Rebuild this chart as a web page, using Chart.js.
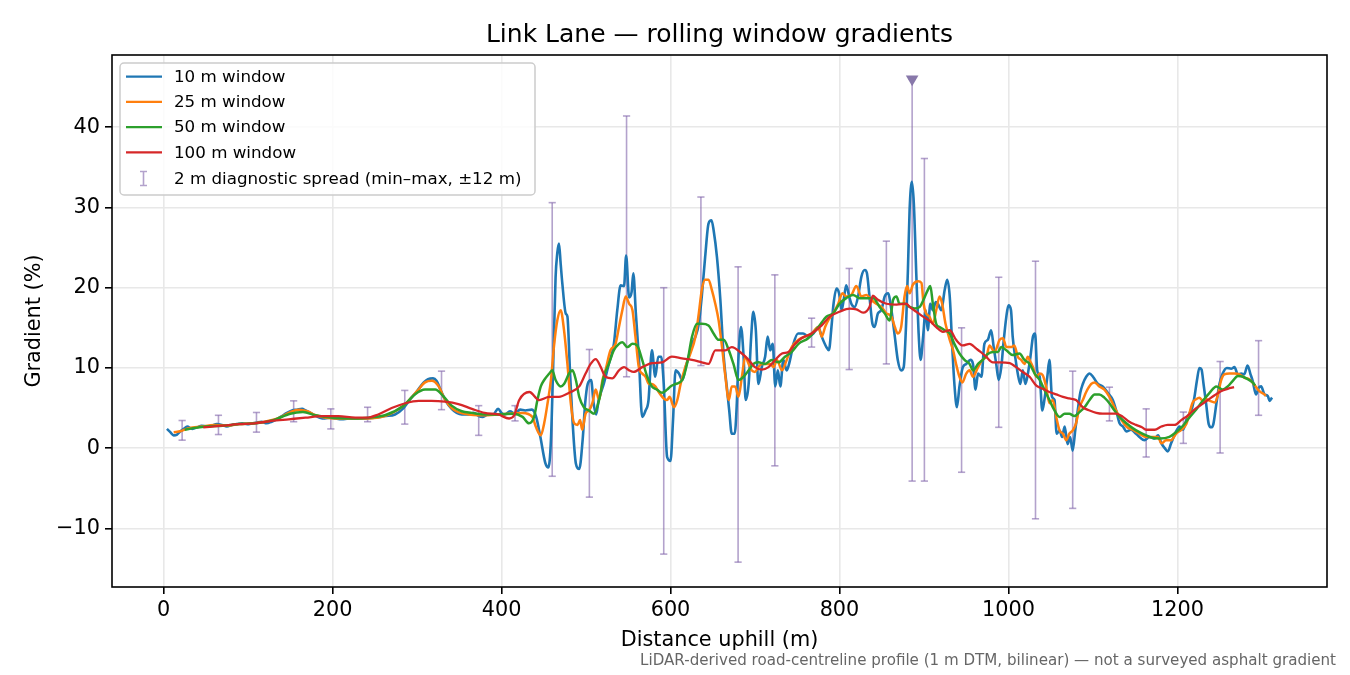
<!DOCTYPE html>
<html>
<head>
<meta charset="utf-8">
<script src="https://cdn.jsdelivr.net/npm/chart.js"></script>
<style>
  html, body { margin: 0; padding: 0; background: #fff; }
  #wrap { width: 1350px; height: 675px; }
</style>
</head>
<body>
<div id="wrap"><canvas id="grad" width="1350" height="675"></canvas></div>
<script>
// rolling-window gradients: [distance m, gradient %]
const w10 = [
  [4,2.4],[8,2.0],[12,1.6],[16,1.7],[20,2.1],[24,2.4],[28,2.7],[34,2.4],[40,2.6],[45,2.8],
  [51,2.7],[57,2.8],[63,3.0],[69,2.9],[75,2.7],[81,2.9],[87,3.0],[93,3.1],[99,3.0],[105,3.1],
  [110,3.2],[116,3.3],[122,3.1],[128,3.3],[134,3.6],[140,4.0],[146,4.4],[152,4.7],[158,4.8],[164,4.9],
  [168,4.7],[174,4.4],[179,4.1],[185,3.8],[191,3.7],[197,3.8],[203,3.7],[211,3.6],[219,3.7],[227,3.7],
  [238,3.7],[250,3.8],[262,4.0],[274,4.2],[284,5.0],[292,6.1],[300,7.1],[308,8.2],[313,8.6],[319,8.7],
  [323,8.4],[329,7.0],[335,5.7],[341,4.9],[347,4.4],[353,4.2],[361,4.2],[367,4.4],[373,4.0],[378,3.9],
  [384,4.2],[390,4.2],[396,4.9],[400,4.4],[404,4.2],[410,4.6],[416,4.3],[422,4.8],[428,4.7],[436,4.8],
  [441,3.9],[446,1.4],[452,-1.9],[455.5,-2.4],[458.5,1.0],[461,9.7],[464,21.3],[466,24.3],[468,25.5],[470,23.0],
  [472,20.5],[476,16.8],[478,16.4],[481,9.7],[484,3.5],[488,-1.9],[492,-2.6],[496,1.0],[499,5.6],[502,8.0],
  [506,8.5],[509,5.6],[512,4.2],[515,6.0],[521,8.0],[527,10.5],[533,13.0],[537,17.2],[541,20.3],[545,20.2],
  [547.5,24.0],[551,18.8],[554,19.5],[556,21.8],[559,16.8],[562.5,11.4],[566.5,3.9],[570.5,4.7],[574,6.0],[578,12.2],
  [582,8.9],[585.5,11.4],[589,11.4],[592,8.0],[596,-1.1],[600,-1.6],[603,3.5],[606,9.7],[610,9.3],[614,8.5],
  [618,10.1],[621.5,11.4],[625.5,13.0],[629.5,13.9],[633.5,15.5],[637,18.9],[641,23.8],[645,28.0],[648.5,28.4],[651,27.2],
  [655,23.8],[659,18.5],[663,11.4],[667,7.3],[669.5,4.7],[672.5,1.8],[676,1.8],[678.5,5.6],[680.5,11.4],[683.5,15.1],
  [686.5,11.4],[689,6.0],[692.5,8.0],[695.5,13.9],[698,17.0],[701,14.7],[704,8.0],[708,10.1],[712,11.4],[715,13.9],
  [718,12.2],[721,13.0],[724,7.7],[727,9.7],[730,7.7],[733.5,11.0],[737.5,9.7],[741.5,11.0],[745.5,13.0],[751,14.3],
  [757,14.3],[763,13.9],[769,14.3],[775,15.1],[779,13.9],[784.5,12.6],[787.5,12.2],[790.5,15.1],[793,18.0],[796.5,19.9],
  [799.5,19.3],[802.5,17.2],[805,18.5],[808,20.3],[811.5,18.9],[814,18.0],[818,17.6],[822,18.9],[826,21.4],[830,22.2],
  [832.5,21.8],[835.5,18.9],[839,15.5],[841.5,15.1],[845.5,16.8],[849.5,17.2],[853.5,18.9],[857.5,19.3],[861.5,17.2],[865.5,13.9],
  [869,11.0],[873,9.7],[876,10.1],[879,15.9],[881,22.2],[883,29.7],[885.7,33.2],[888,30.5],[891,21.4],[893.5,14.7],
  [896,11.0],[899,13.9],[902,17.2],[904.5,14.7],[907.5,18.0],[910.5,17.2],[914,18.2],[916.5,18.0],[920.5,17.2],[924.5,19.7],
  [927.5,21.0],[930.5,18.9],[933.5,12.6],[936,8.0],[939,5.1],[942,7.7],[946,10.1],[950,10.5],[955,11.0],[958,10.5],
  [961,7.3],[964,9.3],[968,8.9],[971.5,13.0],[975.5,13.5],[979.5,14.7],[982.5,12.6],[985.5,10.5],[988.5,8.5],[991.5,10.1],
  [994,13.0],[997.5,16.4],[1000,17.8],[1003,17.2],[1005,13.9],[1008.5,11.0],[1011,9.3],[1014,8.0],[1017,9.7],[1020,8.0],
  [1023,9.3],[1026,11.4],[1029,13.9],[1031.5,14.3],[1034,9.7],[1037,8.9],[1040,4.7],[1042.5,6.0],[1046,8.9],[1048.5,11.0],
  [1051.5,6.4],[1054.5,6.0],[1057,1.8],[1060.5,2.2],[1063.5,1.4],[1066.5,2.7],[1070,0.5],[1073,1.4],[1076,-0.3],[1079,2.2],
  [1082,4.7],[1085,6.9],[1088,8.0],[1092,8.9],[1096,9.3],[1100,8.9],[1106,8.0],[1111.5,7.7],[1117.5,6.9],[1123.5,6.0],
  [1127.5,4.7],[1131.5,3.1],[1135.5,2.7],[1139.5,2.1],[1145,2.3],[1151,1.8],[1155,1.4],[1161,1.0],[1167,1.4],[1173,1.2],
  [1177,1.6],[1181,0.6],[1185,0.0],[1188.5,-0.4],[1192.5,0.6],[1197.5,1.9],[1202.5,2.7],[1206.5,2.3],[1210.5,3.5],[1214,4.3],
  [1217.5,5.1],[1220,6.3],[1223,8.4],[1226,10.0],[1228.5,9.8],[1231,7.9],[1234,5.5],[1237,3.0],[1240,2.6],[1242.5,3.0],
  [1246,5.5],[1249.5,7.9],[1253.5,9.3],[1258.5,10.0],[1263.5,9.9],[1267.5,10.1],[1271.5,9.2],[1275.5,9.3],[1279,9.2],[1283,10.3],
  [1286.5,9.2],[1289,8.4],[1293,6.7],[1296,7.5],[1299,7.7],[1303,6.7],[1307,6.5],[1309,5.9],[1312,6.3]
];
const w25 = [
  [12,2.0],[20,2.1],[30,2.5],[45,2.7],[60,2.9],[75,2.8],[90,3.0],[105,3.1],[120,3.3],[135,3.7],
  [150,4.5],[160,4.8],[170,4.6],[180,4.1],[192,3.8],[205,3.7],[220,3.7],[240,3.7],[262,4.0],[284,5.3],
  [300,7.1],[309.5,8.2],[317.5,8.4],[325,7.8],[333,6.1],[341,5.0],[349,4.5],[361,4.2],[372.5,4.1],[384,4.1],
  [396,4.2],[410,4.3],[425,4.4],[436.5,3.9],[440.5,2.7],[446.5,1.6],[450.5,3.1],[454.5,5.6],[458.5,8.5],[462,12.6],
  [466,15.9],[470,17.2],[474,14.7],[478,10.5],[482,5.6],[486,3.1],[490,2.9],[493,3.5],[495.5,2.3],[499.5,4.3],
  [503.5,4.7],[507.5,5.6],[511.5,7.3],[515.5,6.0],[519.5,8.5],[523,9.7],[529,12.2],[535,13.0],[539,15.1],[543,17.2],
  [547,18.9],[551,18.0],[555,17.2],[558.5,13.9],[562.5,10.1],[566.5,9.3],[570.5,8.9],[574.5,8.0],[578,8.0],[582,7.7],
  [586,7.0],[592,6.2],[596,6.0],[599,6.4],[604,5.1],[608,6.0],[612,8.0],[617.5,10.1],[623.5,11.8],[629.5,13.9],
  [633.5,16.8],[637,19.7],[641,21.0],[645,21.0],[649,19.7],[653,18.0],[657,15.9],[661,12.6],[665,8.9],[669,6.0],
  [672.5,7.7],[676.5,7.7],[680.5,6.4],[684.5,8.9],[688.5,11.4],[692.5,10.5],[696,9.7],[700,9.5],[704,10.1],[708,10.5],
  [712,10.5],[718,10.5],[722,10.1],[726,11.0],[732,9.7],[737.5,11.0],[743.5,12.6],[751.5,13.5],[759,13.9],[767,14.3],
  [775,15.1],[779,13.9],[783,15.1],[786.5,15.9],[792.5,16.8],[798.5,18.0],[803.5,19.3],[808,18.9],[814,19.1],[820,20.2],
  [826,18.9],[832,19.1],[837.5,18.5],[843.5,18.0],[849.5,17.6],[855.5,16.8],[861.5,16.4],[865.5,15.1],[869,14.3],[873,15.1],
  [877,18.9],[880,20.2],[883,19.3],[887,20.4],[893,20.8],[897,20.6],[899.5,18.0],[902.5,16.8],[906.5,16.4],[910.5,15.5],
  [914.5,17.2],[918.5,18.9],[921.5,18.0],[925.5,15.5],[930.5,13.5],[934.5,12.2],[938,10.5],[942,8.9],[945.5,8.2],[950,9.3],
  [954,9.7],[958,8.9],[964,10.1],[970,11.1],[974,11.4],[977.5,12.8],[983.5,12.0],[989.5,13.5],[993.5,13.7],[997.5,12.6],
  [1003.5,12.6],[1007,12.8],[1011,11.4],[1015,11.0],[1019,10.5],[1023,11.4],[1025,11.0],[1029,10.1],[1033,8.9],[1037,9.3],
  [1040.5,9.1],[1044.5,7.7],[1048.5,5.6],[1052.5,6.0],[1056.5,3.9],[1060.5,2.2],[1064.5,1.8],[1068.5,1.0],[1072,1.8],[1076,2.2],
  [1080,3.1],[1084,5.1],[1088,6.0],[1092,7.0],[1098,8.0],[1102,8.2],[1107.5,7.7],[1113.5,7.3],[1119.5,6.4],[1125.5,5.1],
  [1131.5,3.9],[1139.5,2.7],[1147,2.3],[1155,1.8],[1163,1.4],[1171,1.4],[1177,1.4],[1181,0.6],[1186.5,1.0],[1192.5,1.0],
  [1198.5,1.8],[1204.5,2.3],[1210.5,3.0],[1214,4.3],[1218,5.7],[1222,6.1],[1226,6.3],[1230,5.9],[1234,6.1],[1238.5,5.9],
  [1244,5.7],[1247.5,6.5],[1251.5,8.4],[1255.5,9.2],[1261.5,9.3],[1267.5,9.3],[1273.5,9.2],[1279,8.8],[1285,8.6],[1291,7.9],
  [1297,7.1],[1303,6.7],[1304.5,6.5]
];
const w50 = [
  [25,2.3],[35,2.5],[50,2.7],[70,2.8],[90,3.0],[110,3.1],[130,3.5],[150,4.3],[165,4.5],[180,4.1],
  [200,3.8],[225,3.7],[250,3.9],[262,4.1],[284,5.3],[297.5,6.7],[309.5,7.3],[321.5,7.3],[331,6.5],[341,5.3],
  [353,4.6],[365,4.4],[380,4.2],[396,4.2],[413,4.3],[425,3.9],[432.5,3.1],[438.5,3.9],[442.5,6.0],[446.5,7.7],
  [450.5,8.5],[456.5,9.3],[460,9.7],[464,8.5],[470,7.7],[474,8.0],[480,9.3],[484,9.7],[488,8.5],[492,6.4],
  [497.5,5.1],[503.5,4.7],[509.5,4.3],[515.5,6.0],[521,8.9],[527,10.5],[533,12.2],[539,13.0],[543,13.2],[549,12.6],
  [555,13.0],[560.5,12.8],[566.5,11.0],[572.5,8.9],[578,7.7],[584,7.3],[590,6.9],[596,7.3],[600,7.7],[606,8.0],
  [614,8.5],[619.5,10.5],[625.5,13.9],[631.5,15.5],[637,15.5],[645,15.3],[651,14.3],[657,13.5],[663,13.5],[669,12.2],
  [674.5,10.5],[680.5,8.5],[686.5,8.9],[692.5,9.7],[698,10.5],[704,10.7],[712,10.5],[720,11.0],[728,10.7],[735.5,11.4],
  [743.5,12.0],[751.5,13.0],[763,13.7],[775,15.1],[784.5,16.4],[792.5,16.8],[800,18.0],[808,18.7],[816,19.1],[824,18.7],
  [832,18.7],[840,18.7],[847.5,17.6],[853.5,16.8],[859.5,15.9],[863.5,18.5],[867.5,18.9],[871,18.0],[877,18.0],[883,17.6],
  [889,17.4],[895,17.6],[899.5,18.5],[904.5,19.7],[907.5,20.2],[910.5,18.0],[914.5,15.5],[918.5,15.1],[924.5,14.7],[930.5,14.3],
  [936,13.0],[942,11.8],[948,11.0],[954,10.5],[958,9.7],[964,10.5],[969.5,11.0],[975,11.7],[981.5,12.0],[987.5,12.0],
  [991.5,12.6],[997.5,12.2],[1005,11.6],[1013,11.8],[1019,11.0],[1025,10.5],[1031,9.3],[1037,8.5],[1042.5,7.3],[1048.5,6.0],
  [1054.5,4.7],[1060.5,3.9],[1066.5,4.3],[1072,4.3],[1078,4.0],[1084,4.5],[1090,5.1],[1096,6.0],[1102,6.7],[1107.5,6.7],
  [1113.5,6.3],[1119.5,5.6],[1125.5,4.7],[1131.5,3.9],[1139.5,3.1],[1147,2.5],[1155,2.0],[1163,1.6],[1167,1.4],[1179,1.2],
  [1190.5,1.4],[1198.5,2.0],[1206.5,2.8],[1214,3.8],[1222,4.8],[1230,5.9],[1238,6.9],[1246,7.7],[1253.5,7.3],[1259.5,7.7],
  [1265.5,8.4],[1271.5,9.0],[1277.5,8.9],[1283,8.6],[1289,8.2],[1292,7.8]
];
const w100 = [
  [47,2.6],[69,2.8],[89,3.0],[108,3.1],[128,3.4],[148,3.6],[168,3.8],[187,4.0],[207,4.0],[227,3.8],
  [240,3.8],[254,4.2],[270,5.0],[286,5.6],[302,5.9],[317,5.9],[333,5.8],[349,5.5],[365,4.9],[380,4.4],
  [396,4.2],[409,3.7],[415,4.1],[421,6.0],[433,7.0],[444.5,6.0],[456.5,6.4],[468,6.4],[480,6.9],[492,7.7],
  [499.5,9.3],[505.5,10.5],[511.5,11.1],[517.5,10.1],[523,8.9],[531,8.7],[539,9.7],[545,10.1],[551,9.7],[556.5,9.5],
  [566.5,10.1],[578,10.6],[590,10.7],[601.5,11.4],[613.5,11.2],[625.5,11.0],[637,10.7],[645,10.5],[653,12.2],[665,12.2],
  [672.5,12.6],[684.5,11.8],[692.5,11.0],[700,10.1],[708,9.8],[716,10.1],[724,11.0],[732,11.8],[739.5,12.0],[747.5,13.0],
  [755,13.7],[767,14.3],[779,15.3],[788.5,16.4],[800,17.0],[812,17.4],[820,17.3],[828,16.9],[835.5,17.6],[839.5,19.0],
  [845.5,18.5],[855.5,18.0],[867.5,17.9],[879,18.0],[883,17.6],[891,17.0],[899,16.4],[906.5,15.9],[914.5,15.1],[922.5,14.5],
  [930.5,14.7],[938,13.5],[946,12.8],[954,13.0],[962,12.4],[967,12.0],[973.5,11.4],[981.5,10.7],[989.5,10.7],[1001.5,10.6],
  [1009,10.1],[1017,9.5],[1025,8.9],[1033,7.8],[1040.5,7.4],[1048.5,7.0],[1056.5,6.7],[1064.5,6.4],[1072,6.2],[1080,6.0],
  [1088,5.1],[1096,4.7],[1104,4.4],[1111.5,4.3],[1119.5,4.3],[1127.5,4.3],[1135.5,3.9],[1143,3.3],[1151,2.9],[1158,2.6],
  [1163,2.3],[1173,2.3],[1181,2.7],[1188.5,2.9],[1196.5,2.9],[1204.5,3.5],[1212.5,4.1],[1220,4.8],[1228,5.4],[1236,6.0],
  [1244,6.6],[1251.5,7.1],[1259.5,7.4],[1267,7.6]
];

// 2 m diagnostic spread (min-max within +-12 m)
const spreadX  = [22, 65, 110, 154, 198, 241.5, 285.5, 329, 373, 416, 460, 504, 548, 592, 636, 680, 723.5, 767, 811.5, 855.5, 886, 900.5, 944.5, 988.5, 1032, 1076, 1119.5, 1163, 1207, 1250.5, 1296];
const spreadLo = [1.0, 1.7, 2.0, 3.3, 2.4, 3.3, 3.0, 4.8, 1.6, 3.4, -3.5, -6.1, 8.9, -13.2, 10.3, -14.2, -2.2, 12.6, 9.8, 10.5, -4.1, -4.1, -3.0, 2.6, -8.8, -7.5, 3.4, -1.1, 0.6, -0.6, 4.1];
const spreadHi = [3.45, 4.1, 4.45, 5.9, 4.9, 5.1, 7.2, 9.6, 5.3, 5.3, 30.6, 12.3, 41.4, 20.0, 31.3, 22.6, 21.6, 16.2, 22.4, 25.8, 46.0, 36.1, 15.0, 21.3, 23.3, 9.6, 7.6, 4.9, 4.5, 10.8, 13.4];
// spread that runs off the top, flagged with a marker
const offScaleX = [886];
const offScaleY = [46.0];

const xTicks = [0, 200, 400, 600, 800, 1000, 1200];
const yTicks = [-10, 0, 10, 20, 30, 40];

const seriesNames = ['10 m window', '25 m window', '50 m window', '100 m window'];
const seriesColors = ['#1f77b4', '#ff7f0e', '#2ca02c', '#d62728'];
const spreadLabel = '2 m diagnostic spread (min\u2013max, \u00b112 m)';
const spreadColor = 'rgba(128,100,170,0.6)';

const FONT = "'DejaVu Sans', 'Liberation Sans', sans-serif";

// error bars as broken line segments, caps drawn as 'line' points
const spreadPts = [];
spreadX.forEach((x, i) => {
  spreadPts.push({x: x, y: spreadLo[i]});
  spreadPts.push({x: x, y: spreadHi[i]});
  spreadPts.push({x: x, y: null});
});

const toPts = arr => arr.map(p => ({x: p[0], y: p[1]}));
const lineSets = [w10, w25, w50, w100].map((arr, i) => ({
  label: seriesNames[i],
  data: toPts(arr),
  borderColor: seriesColors[i],
  backgroundColor: seriesColors[i],
  borderWidth: i === 0 ? 2.6 : (i === 3 ? 2.3 : 2.5),
  pointRadius: 0,
  cubicInterpolationMode: 'monotone',
  order: 4 - i + 1
}));

// titles, frame and legend
const decor = {
  id: 'decor',
  afterDraw(chart) {
    const ctx = chart.ctx;
    const a = chart.chartArea;
    ctx.save();
    // frame
    ctx.strokeStyle = '#000';
    ctx.lineWidth = 1.6;
    ctx.strokeRect(a.left, a.top, a.right - a.left, a.bottom - a.top);

    ctx.fillStyle = '#000';
    ctx.textAlign = 'center';
    ctx.textBaseline = 'alphabetic';
    ctx.font = '25px ' + FONT;
    ctx.fillText('Link Lane \u2014 rolling window gradients', (a.left + a.right) / 2, 42);

    ctx.font = '20.8px ' + FONT;
    ctx.fillText('Distance uphill (m)', (a.left + a.right) / 2, 646);
    ctx.save();
    ctx.translate(40, (a.top + a.bottom) / 2);
    ctx.rotate(-Math.PI / 2);
    ctx.fillText('Gradient (%)', 0, 0);
    ctx.restore();

    ctx.fillStyle = '#666';
    ctx.textAlign = 'right';
    ctx.font = '15.1px ' + FONT;
    ctx.fillText('LiDAR-derived road-centreline profile (1 m DTM, bilinear) \u2014 not a surveyed asphalt gradient', 1336, 665);

    // legend
    const bx = 120, by = 63, bw = 415, bh = 132;
    ctx.beginPath();
    ctx.roundRect(bx, by, bw, bh, 4);
    ctx.fillStyle = 'rgba(255,255,255,0.8)';
    ctx.fill();
    ctx.strokeStyle = '#cccccc';
    ctx.lineWidth = 1.5;
    ctx.stroke();

    ctx.font = '16.7px ' + FONT;
    ctx.textAlign = 'left';
    ctx.textBaseline = 'middle';
    const rows = [76.7, 101.9, 127.1, 152.3];
    seriesNames.forEach((name, i) => {
      ctx.strokeStyle = seriesColors[i];
      ctx.lineWidth = 2.2;
      ctx.beginPath();
      ctx.moveTo(126, rows[i]);
      ctx.lineTo(162, rows[i]);
      ctx.stroke();
      ctx.fillStyle = '#000';
      ctx.fillText(name, 174, rows[i] + 1);
    });
    const ey = 178.5;
    ctx.strokeStyle = spreadColor;
    ctx.lineWidth = 1.6;
    ctx.beginPath();
    ctx.moveTo(143.5, ey - 7); ctx.lineTo(143.5, ey + 7);
    ctx.moveTo(140, ey - 7); ctx.lineTo(147, ey - 7);
    ctx.moveTo(140, ey + 7); ctx.lineTo(147, ey + 7);
    ctx.stroke();
    ctx.fillStyle = '#000';
    ctx.fillText(spreadLabel, 174, ey + 1);
    ctx.restore();
  }
};

Chart.defaults.color = '#000';
Chart.defaults.font.family = FONT;

new Chart(document.getElementById('grad'), {
  type: 'line',
  data: {
    datasets: [
      ...lineSets,
      {
        label: spreadLabel,
        data: spreadPts,
        borderColor: spreadColor,
        borderWidth: 1.6,
        spanGaps: false,
        pointStyle: 'line',
        pointRadius: 3.6,
        pointBorderWidth: 1.6,
        pointBorderColor: spreadColor,
        pointBackgroundColor: spreadColor,
        order: 10
      },
      {
        label: 'off scale',
        data: offScaleX.map((x, i) => ({x: x, y: offScaleY[i]})),
        showLine: false,
        pointStyle: 'triangle',
        rotation: 180,
        pointRadius: 7.3,
        pointBorderWidth: 0,
        pointBackgroundColor: '#8878aa',
        pointBorderColor: '#8878aa',
        order: 0
      }
    ]
  },
  options: {
    responsive: false,
    animation: false,
    devicePixelRatio: 1,
    layout: { padding: { top: 55, right: 23, left: 0, bottom: 0 } },
    plugins: { legend: { display: false }, tooltip: { enabled: false } },
    scales: {
      x: {
        type: 'linear',
        min: -61,
        max: 1377,
        afterBuildTicks: s => { s.ticks = xTicks.map(v => ({value: v})); },
        afterFit: s => { s.height = 88; },
        border: { display: false },
        grid: { color: '#e8e8e8', lineWidth: 1.6, tickColor: '#000', tickLength: 7, tickWidth: 1.6 },
        ticks: { autoSkip: false, maxRotation: 0, padding: 4, font: { size: 20.8 }, callback: v => String(v) }
      },
      y: {
        type: 'linear',
        min: -17.3,
        max: 49.0,
        afterBuildTicks: s => { s.ticks = yTicks.map(v => ({value: v})); },
        afterFit: s => { s.width = 112; },
        border: { display: false },
        grid: { color: '#e8e8e8', lineWidth: 1.6, tickColor: '#000', tickLength: 7, tickWidth: 1.6 },
        ticks: {
          autoSkip: false, padding: 5, font: { size: 20.8 },
          callback: v => v < 0 ? '\u2212' + Math.abs(v) : String(v)
        }
      }
    }
  },
  plugins: [decor]
});
</script>
</body>
</html>
